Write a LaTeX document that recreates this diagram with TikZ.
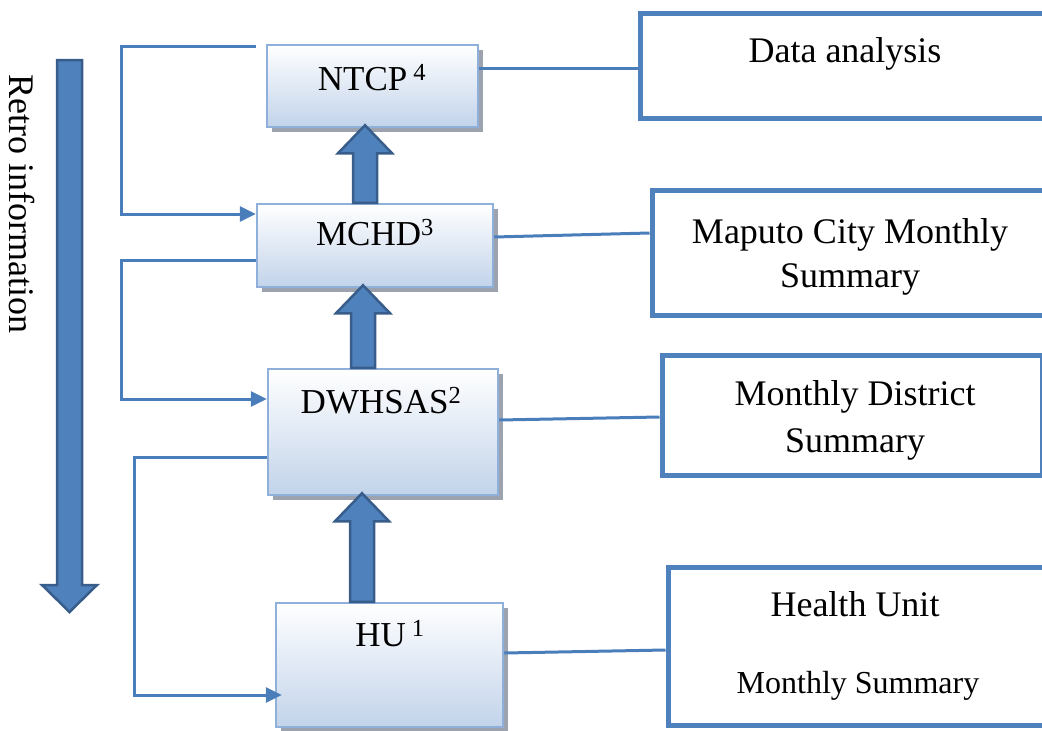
\documentclass[tikz,border=0pt]{standalone}
\usepackage{fontspec}
\setmainfont{Liberation Serif}
\usetikzlibrary{arrows.meta,shadows,calc}
\definecolor{lineblue}{HTML}{4A7EBB}
\definecolor{arrowblue}{HTML}{4F81BD}
\definecolor{arrowdark}{HTML}{385D8A}
\definecolor{lboxborder}{HTML}{8FB0DA}
\definecolor{lboxbottom}{HTML}{C2D3EA}
\definecolor{shadowgray}{HTML}{9CA3AE}
\tikzset{
  lbox/.style={draw=lboxborder, line width=2.5pt, top color=white, bottom color=lboxbottom,
    drop shadow={shadow xshift=5pt, shadow yshift=-5pt, fill=shadowgray, opacity=1}, inner sep=0pt},
  rbox/.style={draw=arrowblue, line width=5pt, fill=white, inner sep=0pt},
  ltext/.style={font=\fontsize{35}{42}\selectfont, inner sep=0pt, anchor=base},
  rtext/.style={font=\fontsize{36}{43}\selectfont, inner sep=0pt, anchor=base},
  conn/.style={draw=lineblue, line width=3pt},
  fb/.style={conn, -{Triangle[length=16pt,width=15pt]}},
  barrow/.style={fill=arrowblue, draw=arrowdark, line width=2.5pt, line join=miter}
}
\newcommand\blockup[3]{%
  \filldraw[barrow] let \p1=(#2), \p2=(#3) in
    (#1pt-12pt,\y1) -- (#1pt-12pt,\y2-25pt) -- (#1pt-27pt,\y2-25pt) -- (#1pt,\y2+3pt)
    -- (#1pt+27pt,\y2-25pt) -- (#1pt+12pt,\y2-25pt) -- (#1pt+12pt,\y1) -- cycle;}
\begin{document}
\begin{tikzpicture}[x=1pt,y=-1pt]
\useasboundingbox (0,0) rectangle (1042,731);
\clip (0,0) rectangle (1042,731);

% big retro-information arrow
\filldraw[barrow] (57,60) -- (82,60) -- (82,585) -- (97,585) -- (69.5,612) -- (42,585) -- (57,585) -- cycle;
\node[font=\fontsize{36}{43}\selectfont, rotate=-90, inner sep=0pt] (retro) at (22,204) {Retro information};

% left boxes
\node[lbox, minimum width=211pt, minimum height=82pt] (ntcp) at (372.5,86) {};
\node[lbox, minimum width=236pt, minimum height=83pt] (mchd) at (375,245.5) {};
\node[lbox, minimum width=230pt, minimum height=126pt] (dwh) at (383,432) {};
\node[lbox, minimum width=227pt, minimum height=124pt] (hu) at (389.5,665) {};

\node[ltext] (ntcpT) at (372,90) {NTCP\,\textsuperscript{4}};
\node[ltext] (mchdT) at (375,245) {MCHD\textsuperscript{3}};
\node[ltext] (dwhT) at (381,413) {DWHSAS\textsuperscript{2}};
\node[ltext] (huT) at (390,646) {HU\,\textsuperscript{1}};

% right boxes
\node[rbox, minimum width=420pt, minimum height=105pt] (da) at (850,65.5) {};
\node[rbox, minimum width=396pt, minimum height=125pt] (mc) at (850,252.5) {};
\node[rbox, minimum width=380pt, minimum height=120pt] (md) at (852,415) {};
\node[rbox, minimum width=378pt, minimum height=158pt] (hs) at (857,646) {};

\node[rtext] (daT) at (845,62) {Data analysis};
\node[rtext] (mcT1) at (850,243) {Maputo City Monthly};
\node[rtext] (mcT2) at (850,287) {Summary};
\node[rtext] (mdT1) at (855,405) {Monthly District};
\node[rtext] (mdT2) at (855,452) {Summary};
\node[rtext] (hsT1) at (855,616) {Health Unit};
\node[font=\fontsize{32}{38}\selectfont, inner sep=0pt, anchor=base] (hsT2) at (858,693) {Monthly Summary};

% block arrows upward
\blockup{365}{mchd.north}{ntcp.south}
\blockup{363}{dwh.north}{mchd.south}
\blockup{362}{hu.north}{dwh.south}

% right connectors
\draw[conn] (ntcp.east |- 0,68) -- (da.west |- 0,68);
\draw[conn] (mchd.east |- 0,237) -- (mc.west |- 0,233);
\draw[conn] (dwh.east |- 0,420) -- (md.west |- 0,417);
\draw[conn] (hu.east |- 0,653) -- (hs.west |- 0,650);

% feedback connectors
\draw[fb, shorten <=10pt] (ntcp.west |- 0,46) -- (121,46) |- (mchd.west |- 0,214);
\draw[fb] (mchd.west |- 0,260) -- (121,260) |- (dwh.west |- 0,399);
\draw[fb, shorten >=-7pt] (dwh.west |- 0,457) -- (134,457) |- (hu.west |- 0,695);
\end{tikzpicture}
\end{document}
